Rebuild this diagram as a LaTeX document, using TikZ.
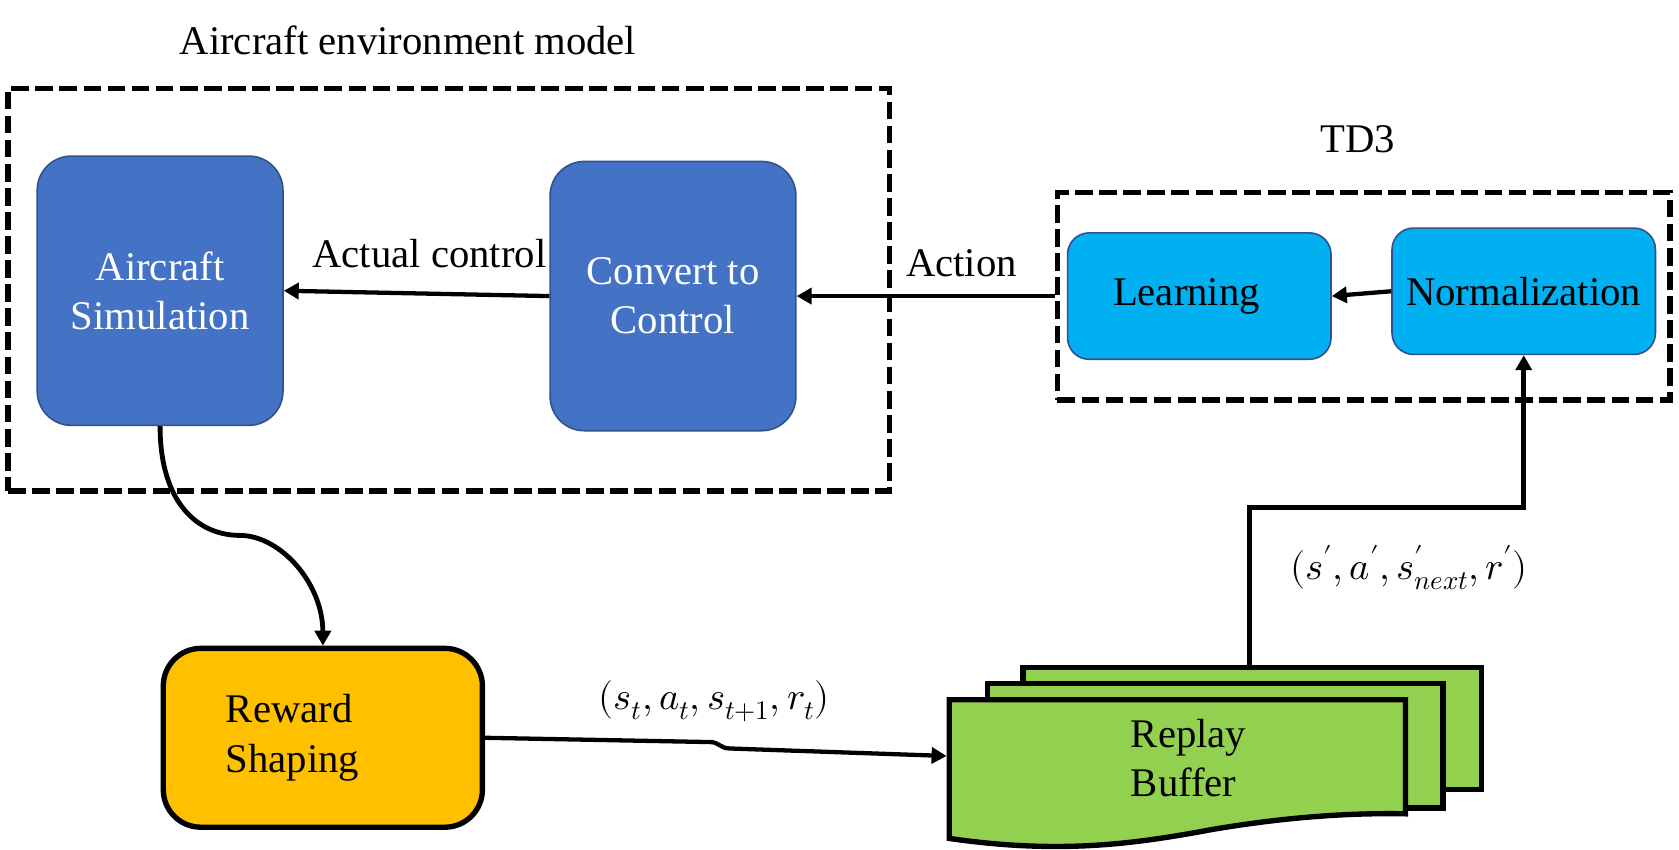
\documentclass[tikz,border=0pt]{standalone}
\usepackage{unicode-math}
\setmathfont{Latin Modern Math}
\setmainfont{Liberation Serif}
\newfontfamily\tnr{Liberation Serif}
\usetikzlibrary{arrows.meta}
\definecolor{simblue}{HTML}{4472C4}
\definecolor{edgeblue}{HTML}{2F528F}
\definecolor{skyblue}{HTML}{00B0F0}
\definecolor{rewgold}{HTML}{FFC000}
\definecolor{bufgreen}{HTML}{92D050}
\begin{document}
\begin{tikzpicture}[x=1pt,y=-1pt,
  font=\tnr\fontsize{38}{46}\selectfont,
  simbox/.style={draw=edgeblue, line width=1.5pt, fill=simblue, rounded corners=32pt,
    text=white, minimum width=229.5pt, minimum height=251.5pt, align=center, inner sep=0pt},
  netbox/.style={draw=edgeblue, line width=1.5pt, fill=skyblue, rounded corners=20pt,
    minimum width=246pt, minimum height=118pt, inner sep=0pt},
  groupbox/.style={draw, line width=5pt, dash pattern=on 16.5pt off 6pt, inner sep=0pt},
  bufsheet/.style={draw, line width=5pt, fill=bufgreen},
  mathlabel/.style={font=\tnr\fontsize{36}{42}\selectfont, inner sep=1pt},
  conn/.style={line width=4pt, -{Triangle[length=14pt,width=15pt]}}]
\useasboundingbox (0,0) rectangle (1568,793);

% group boxes
\node[groupbox, minimum width=823pt, minimum height=376pt] (env) at (419,270.5) {};
\node (envlabel) at (381,38) {Aircraft environment model};
\node[groupbox, minimum width=572pt, minimum height=194pt] (td3) at (1273.5,276.5) {};
\node (td3label) at (1268,130) {TD3};

% blocks
\node[simbox] (sim) at (149.5,271.5) {Aircraft\\Simulation};
\node[simbox] (conv) at (628.5,276.5) {Convert to\\Control};
\node[netbox] (learn) at (1120,276.5) {Learning\kern24pt};
\node[netbox] (norm) at (1423,272) {Normalization};
\node[draw, line width=5pt, fill=rewgold, rounded corners=35pt, minimum height=167pt,
  text width=181pt, inner xsep=58.5pt, inner ysep=0pt, align=left] (rew) at (301.5,689) {Reward\\Shaping};

% replay buffer (stacked documents)
\draw[bufsheet] (955.5,623.5) rectangle (1383.5,737.5);
\draw[bufsheet] (922.5,638.5) rectangle (1347.5,754.5);
\draw[bufsheet] (886.5,653.5) -- (886.5,783)
  .. controls (990,798) and (1060,788) .. (1130,775)
  .. controls (1200,763) and (1260,759) .. (1312.5,760) -- (1312.5,653.5) -- cycle;
\node[align=left] (buf) at (1110,708) {Replay\\Buffer};
\coordinate (bufW) at (884,706);
\coordinate (bufN) at (1167,621);

% connectors
\draw[conn] (conv.west) -- (sim.east);
\draw[conn] (td3.west) -- (conv.east);
\draw[conn] (norm.west) -- (learn.east);
\draw[conn, line width=5pt] (bufN) -- ++(0,-147) -| (norm.south);
\draw[conn, line width=4.5pt] (sim.south) .. controls (149.5,470) and (185,500) .. (224,500)
  .. controls (262,500) and (301.5,545) .. (rew.north);
\draw[conn] (rew.east) -- (663,693) .. controls (672,693) and (672,699) .. (682,699) -- (bufW);

% labels
\node (actlabel) at (401,237) {Actual control};
\node (actionlabel) at (898,246) {Action};
\node[mathlabel] (tlabel) at (667,655) {$(s_t, a_t, s_{t+1}, r_t)$};
\node[mathlabel] (plabel) at (1316,530) {$(s', a', s'_{next}, r')$};
\end{tikzpicture}
\end{document}
